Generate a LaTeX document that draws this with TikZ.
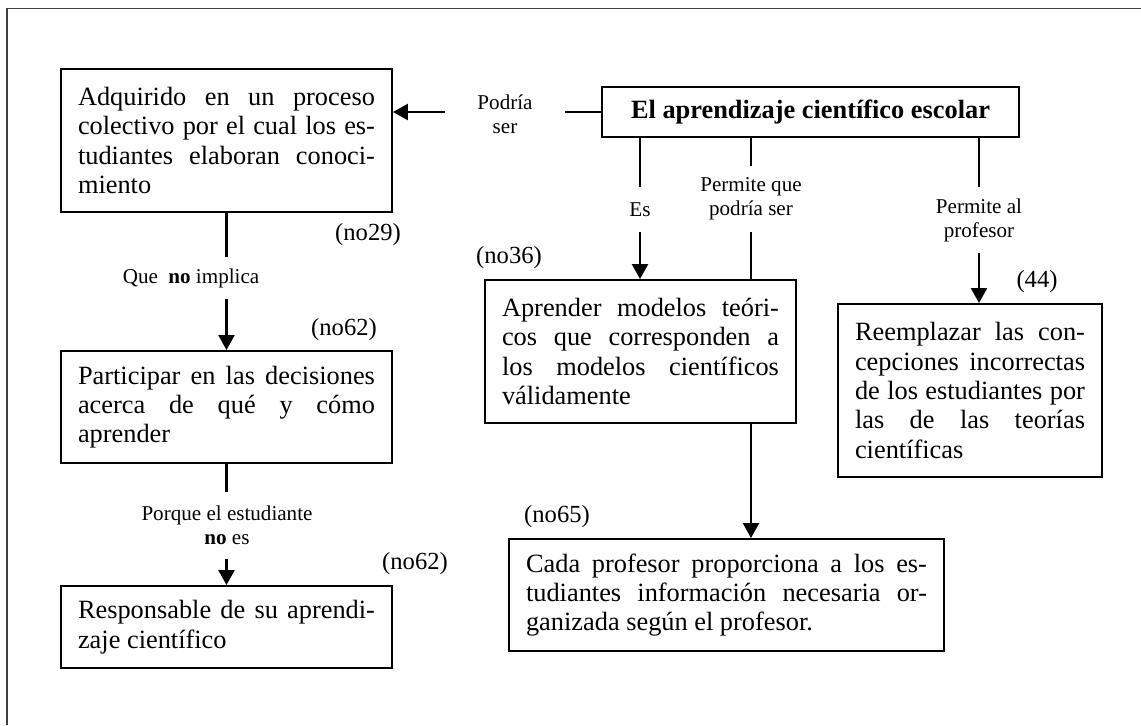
\documentclass[tikz,border=0pt]{standalone}
\usepackage{fontspec}
\setmainfont{Liberation Serif}
\usetikzlibrary{arrows.meta}
\tolerance=9999
\tikzset{
  box/.style={draw, line width=1.1pt, align=justify, inner xsep=0.34cm, inner ysep=0pt, font=\fontsize{15}{16.7}\selectfont},
  lbl/.style={inner sep=0pt, align=center, font=\fontsize{12}{13.6}\selectfont},
  num/.style={inner sep=0pt, font=\fontsize{14}{16}\selectfont},
  link/.style={line width=1.5pt},
  arr/.style={line width=1.5pt, -{Triangle[length=8.5pt,width=9pt]}}
}
\begin{document}
\begin{tikzpicture}[x=0.02cm, y=-0.02cm]
\useasboundingbox (0,0) rectangle (1141,725);
% the frame, top and left only
\draw[line width=0.7pt, black!75] (7,725) -- (7,8.5) -- (1141,8.5);
% the boxes
\node[draw, line width=1.3pt, minimum width=8.34cm, minimum height=1cm, font=\fontsize{15}{16.7}\selectfont\bfseries] (aprendizaje) at (810.5,112) {El aprendizaje científico escolar};
\node[box, text width=5.94cm, minimum height=2.86cm] (adquirido) at (226.5,140.5) {Adquirido en un proceso\linebreak colectivo por el cual los es-\linebreak tudiantes elaboran conoci-\linebreak miento};
\node[box, text width=5.94cm, minimum height=2.24cm] (participar) at (226.5,407) {Participar en las decisiones\linebreak acerca de qué y cómo\linebreak aprender};
\node[box, text width=5.94cm, minimum height=1.64cm] (responsable) at (226.5,627) {Responsable de su aprendi-\linebreak zaje científico};
\node[box, text width=5.54cm, minimum height=2.86cm] (aprender) at (640.5,351.5) {Aprender modelos teóri-\linebreak cos que corresponden a\linebreak los modelos científicos\linebreak válidamente};
\node[box, text width=4.60cm, minimum height=3.46cm] (reemplazar) at (970,390.5) {Reemplazar las con-\linebreak cepciones incorrectas\linebreak de los estudiantes por\linebreak las de las teorías\linebreak científicas};
\node[box, text width=8.02cm, minimum height=2.24cm] (cada) at (726.5,595) {Cada profesor proporciona a los es-\linebreak tudiantes información necesaria or-\linebreak ganizada según el profesor.};
% the link labels
\node[lbl, minimum width=2.4cm] (podria) at (505,114) {Podría\\ser};
\node[lbl, minimum height=0.9cm] (es) at (640,209.5) {Es};
\node[lbl, minimum height=1.32cm] (permiteque) at (751,199) {Permite que\\podría ser};
\node[lbl, minimum height=1.32cm] (permiteal) at (979,220) {Permite al\\profesor};
\node[lbl, minimum height=0.84cm] (que) at (191,278) {Que \ \textbf{no} implica};
\node[lbl, minimum height=1.34cm] (porque) at (227,525.5) {Porque el estudiante\\\textbf{no} es};
% the numbers
\node[num] (n29) at (368,235) {(no29)};
\node[num] (n36) at (509,258) {(no36)};
\node[num] (n62a) at (344,330) {(no62)};
\node[num] (n62b) at (415,564) {(no62)};
\node[num] (n65) at (557,517) {(no65)};
\node[num] (n44) at (1037,282) {(44)};
% the links
\draw[link] (aprendizaje.west) -- (podria.east |- aprendizaje.west);
\draw[arr] (podria.west |- aprendizaje.west) -- (adquirido.east |- aprendizaje.west);
\draw[link] (aprendizaje.south -| es) -- (es.north);
\draw[arr] (es.south) -- (es |- aprender.north);
\draw[link] (aprendizaje.south -| permiteque) -- (permiteque.north);
\draw[link] (permiteque.south) -- (permiteque |- aprender.north);
\draw[arr] (permiteque |- aprender.south) -- (permiteque |- cada.north);
\draw[link] (aprendizaje.south -| permiteal) -- (permiteal.north);
\draw[arr] (permiteal.south) -- (permiteal |- reemplazar.north);
\draw[link] (adquirido.south) -- (adquirido.south |- que.north);
\draw[arr] (adquirido.south |- que.south) -- (participar.north);
\draw[link] (participar.south) -- (participar.south |- porque.north);
\draw[arr] (participar.south |- porque.south) -- (responsable.north);
\end{tikzpicture}
\end{document}
